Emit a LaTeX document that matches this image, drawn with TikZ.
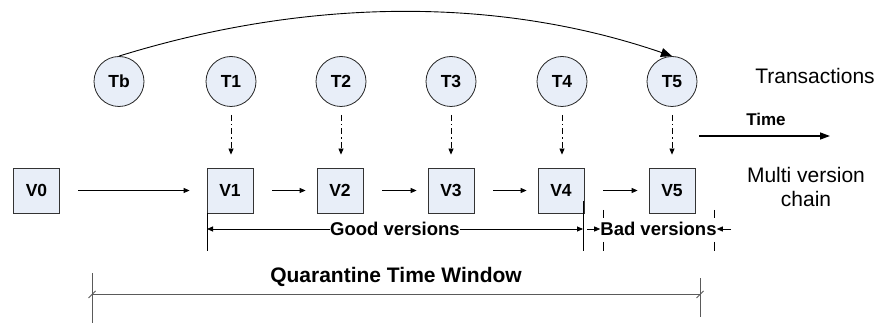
\documentclass[tikz,border=0pt]{standalone}
\usepackage{fontspec}
\setmainfont{Liberation Sans}
\usetikzlibrary{arrows.meta}
\definecolor{fillc}{RGB}{232,238,248}
\definecolor{dimgray}{RGB}{90,90,90}
\begin{document}
\begin{tikzpicture}[x=1pt,y=-1pt,
  trans/.style={circle,draw=black!85,line width=0.8pt,fill=fillc,minimum size=50pt,inner sep=0pt,
    font=\fontsize{17.5}{20}\selectfont\bfseries},
  ver/.style={rectangle,draw=black!80,line width=0.8pt,fill=fillc,minimum width=46pt,minimum height=45pt,inner sep=0pt,
    font=\fontsize{17.5}{20}\selectfont\bfseries},
  small/.style={-{Triangle[length=6pt,width=5pt]},line width=0.8pt},
  dashdown/.style={small,dash pattern=on 6pt off 3pt on 1.5pt off 3pt,shorten <=8pt,shorten >=13pt},
  plain/.style={line width=0.8pt},
  dimlab/.style={font=\fontsize{18.5}{22}\selectfont\bfseries,inner sep=0pt},
  biglab/.style={font=\fontsize{21}{25}\selectfont,inner sep=0pt}
]
\useasboundingbox (0,0) rectangle (881,323);
\fill[white] (0,0) rectangle (881,323);

% transactions
\node[trans] (Tb) at (119,81.5) {Tb};
\node[trans] (T1) at (231,81.5) {T1};
\node[trans] (T2) at (341,81.5) {T2};
\node[trans] (T3) at (451,81.5) {T3};
\node[trans] (T4) at (562,81.5) {T4};
\node[trans] (T5) at (672,81.5) {T5};

% versions
\node[ver] (V0) at (36.5,190.5) {V0};
\node[ver] (V1) at (230,190.5) {V1};
\node[ver] (V2) at (340,190.5) {V2};
\node[ver] (V3) at (451,190.5) {V3};
\node[ver] (V4) at (561,190.5) {V4};
\node[ver] (V5) at (672,190.5) {V5};

% arc from Tb to T5
\draw[line width=0.9pt,-{Triangle[length=11pt,width=9pt]}]
  (Tb.north) .. controls (310,-3) and (500,-3) .. (T5.north);

% dashed writes
\foreach \i in {1,...,5} {
  \draw[dashdown] (T\i.south) -- (T\i.south |- V\i.north);
}

% chain arrows
\draw[small,shorten <=18.5pt,shorten >=17pt] (V0) -- (V1);
\draw[small,shorten <=19pt,shorten >=11pt] (V1) -- (V2);
\draw[small,shorten <=19pt,shorten >=11pt] (V2) -- (V3);
\draw[small,shorten <=19pt,shorten >=11pt] (V3) -- (V4);
\draw[small,shorten <=19pt,shorten >=11pt] (V4) -- (V5);

% labels on the right
\node[biglab] (trlab) at (815,76) {Transactions};
\node[font=\fontsize{17}{20}\selectfont\bfseries,inner sep=0pt] (timelab) at (766,119) {Time};
\coordinate (ts) at (699,136);
\coordinate (te) at (830,136);
\draw[line width=1.4pt,-{Triangle[length=10pt,width=7pt]}] (ts) -- (te);
\node[biglab,align=center] (mvlab) at (806,187) {Multi version\\[-0.5pt]chain};

% good versions dimension
\coordinate (g1t) at (207,213);
\coordinate (g1b) at (207,251);
\coordinate (g2t) at (583,201);
\coordinate (g2b) at (583,251);
\draw[plain] (g1t) -- (g1b);
\draw[plain] (g2t) -- (g2b);
\node[dimlab] (good) at (395,229) {Good versions};
\draw[small] (good.west) -- (g1t |- good.west);
\draw[small] (good.east) -- (g2t |- good.east);

% bad versions dimension
\draw[plain] (603,210) -- (603,218);
\draw[plain] (603,242) -- (603,251);
\draw[plain] (714,210) -- (714,218);
\draw[plain] (714,242) -- (714,251);
\node[dimlab] (bad) at (658.5,229) {Bad versions};
\coordinate (b1) at (587,229);
\coordinate (b2) at (731,229);
\draw[small] (b1) -- (bad.west);
\draw[small] (b2) -- (bad.east);

% quarantine window
\node[font=\fontsize{21}{25}\selectfont\bfseries,inner sep=0pt] (qlab) at (396,277) {Quarantine Time Window};
\coordinate (q1) at (92,294.5);
\coordinate (q2) at (700,294.5);
\draw[dimgray,line width=1.4pt] (q1) -- (q2);
\draw[dimgray,line width=1pt] (92,273) -- (92,323);
\draw[dimgray,line width=1pt] (700,278) -- (700,317);
\draw[dimgray,line width=0.8pt] (88.5,298) -- (95.5,291);
\draw[dimgray,line width=0.8pt] (696.5,298) -- (703.5,291);
\end{tikzpicture}
\end{document}
